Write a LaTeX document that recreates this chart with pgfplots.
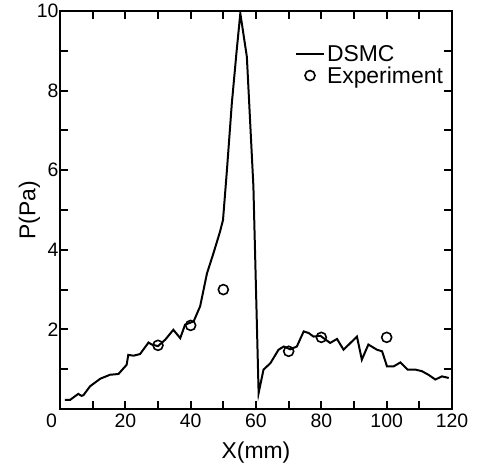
\documentclass[border=0pt]{standalone}
\usepackage{pgfplots}
\pgfplotsset{compat=1.18}
\usepackage{fontspec}
\setmainfont{Liberation Sans}
\pgfplotsset{
  dsmcleg/.style={legend image code/.code={\draw[##1] (0bp,0bp) -- (28bp,0bp);}},
  expleg/.style={legend image code/.code={\path (0bp,0bp) (28bp,0bp); \draw[##1] plot coordinates {(14bp,0bp)};}},
}
\begin{document}
\begin{tikzpicture}
\begin{axis}[
  scale only axis,
  width=392bp, height=398bp,
  xmin=0, xmax=120, ymin=0, ymax=10,
  xtick={0,20,...,120},
  xticklabels={\makebox[0pt][r]{0\hspace{3bp}},20,40,60,80,100,120},
  ytick={2,4,...,10},
  yticklabels={2,4,6,8,10},
  minor xtick={10,30,50,70,90,110},
  minor ytick={1,3,5,7,9},
  major tick length=8bp,
  minor tick length=8bp,
  every tick/.style={line width=2pt, black},
  axis line style={line width=1.6pt},
  tick label style={font=\fontsize{19.5}{21}\selectfont},
  xticklabel style={yshift=-1bp},
  yticklabel style={xshift=2bp},
  label style={font=\fontsize{23}{25}\selectfont},
  xlabel={X(mm)},
  ylabel={P(Pa)},
  xlabel style={yshift=-8bp},
  ylabel style={yshift=-10bp},
  legend style={draw=none, fill=none, at={(0.99,0.925)}, anchor=north east,
    font=\fontsize{23}{25}\selectfont, row sep=0bp},
  legend cell align=left,
]
\addplot[black, line width=2pt, dsmcleg] coordinates {
(1.5,0.23) (3.1,0.23) (5.6,0.38) (6.6,0.33) (7.2,0.35) (9.2,0.57) (12.3,0.76)
(15.3,0.86) (17.9,0.88) (20.4,1.11) (20.9,1.36) (22.5,1.34) (24.5,1.38)
(27.1,1.67) (28.1,1.62) (30,1.58) (32.2,1.74) (34.7,1.99) (36.8,1.78)
(38.3,2.12) (40.9,2.2) (42.9,2.58) (45,3.41) (47,3.92) (49,4.46) (49.9,4.75)
(51.1,6.0) (52.6,7.68) (54.1,9.02) (55.2,9.94) (57.2,8.85) (59.2,5.6)
(60.8,0.4) (62.3,0.99) (64.4,1.15) (66.9,1.49) (68.5,1.57) (70.5,1.5)
(72.5,1.57) (74.6,1.95) (76.1,1.91) (77.6,1.82) (79.7,1.84) (82.7,1.66)
(84.8,1.76) (86.8,1.49) (90.9,1.82) (92.4,1.24) (94.4,1.62) (97,1.49)
(98.6,1.45) (100.1,1.07) (102.1,1.07) (104.2,1.17) (106.4,0.99) (108.8,0.99)
(110.8,0.95) (112.8,0.86) (114.9,0.74) (116.9,0.82) (119,0.78)
};
\addlegendentry{DSMC}
\addplot[only marks, mark=o, mark size=5bp, black, line width=1.6pt, expleg] coordinates {
(30,1.6) (40,2.1) (50,3.0) (70,1.45) (80,1.8) (100,1.8)
};
\addlegendentry{Experiment}
\end{axis}
\begin{axis}[
  scale only axis,
  width=392bp, height=398bp,
  xmin=0, xmax=120, ymin=0, ymax=10,
  xtick={0,20,...,120},
  ytick={0,2,...,10},
  xticklabels={}, yticklabels={},
  minor xtick={10,30,50,70,90,110},
  minor ytick={1,3,5,7,9},
  major tick length=8bp,
  minor tick length=8bp,
  every tick/.style={line width=2pt, black},
  axis line style={draw=none},
]
\end{axis}
\pgfresetboundingbox
\path (current axis.south west) +(-60bp,-58bp) (current axis.north east) +(27bp,11bp);
\end{tikzpicture}
\end{document}
